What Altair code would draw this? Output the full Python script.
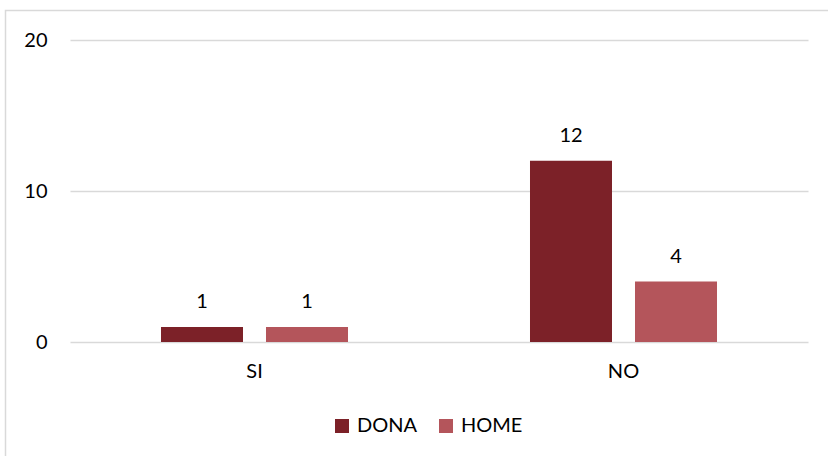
import altair as alt
import pandas as pd

categories = ["SI", "NO"]
series = ["DONA", "HOME"]
dona = [1, 12]
home = [1, 4]
colors = ["#7C2128", "#B4555B"]

rows = []
for i, c in enumerate(categories):
    rows.append({"cat": c, "serie": "DONA", "val": dona[i]})
    rows.append({"cat": c, "serie": "HOME", "val": home[i]})
df = pd.DataFrame(rows)

FONT = "Lato"

x_enc = alt.X("cat:N", sort=categories, title=None,
              scale=alt.Scale(paddingInner=0.4932, paddingOuter=0.2466),
              axis=alt.Axis(labelAngle=0, labelPadding=19, ticks=False, domain=False, grid=False,
                            labelFontSize=20, labelFont=FONT, labelColor="#000000"))
xo_enc = alt.XOffset("serie:N", sort=series,
                     scale=alt.Scale(paddingInner=0.219, paddingOuter=0))
y_enc = alt.Y("val:Q", title=None,
              scale=alt.Scale(domain=[0, 20], nice=False),
              axis=alt.Axis(values=[0, 10, 20], ticks=False, domain=False,
                            labelPadding=23, labelFontSize=20, labelFont=FONT,
                            labelColor="#000000", gridColor="#D9D9D9", gridWidth=1.3))

base = alt.Chart(df)

bars = base.mark_bar().encode(
    x=x_enc, xOffset=xo_enc, y=y_enc,
    color=alt.Color("serie:N", sort=series, title=None,
                    scale=alt.Scale(domain=series, range=colors),
                    legend=alt.Legend(orient="none", legendX=262, legendY=376,
                                      direction="horizontal", symbolType="square",
                                      symbolSize=196, symbolStrokeWidth=0,
                                      labelFontSize=20, labelFont=FONT, labelColor="#000000",
                                      labelOffset=5, columnPadding=18)),
)

labels = base.mark_text(baseline="middle", dy=-25, fontSize=20, font=FONT, color="#000000").encode(
    x=alt.X("cat:N", sort=categories), xOffset=alt.XOffset("serie:N", sort=series),
    y="val:Q", text="val:Q",
)

border = alt.Chart(alt.Data(values=[{}])).mark_rect(
    fill=None, stroke="#D9D9D9", strokeWidth=1.5, clip=False
).encode(x=alt.value(-64.5), x2=alt.value(800), y=alt.value(-29.5), y2=alt.value(460))

chart = alt.layer(border, bars, labels).properties(
    width=738, height=302,
    background="#FFFFFF",
    autosize=alt.AutoSizeParams(type="none"),
    padding={"left": 70, "top": 40, "right": 20, "bottom": 114},
).configure_view(stroke=None, strokeWidth=0)

chart.save("out.html", embed_options={"renderer": "svg", "actions": False})
